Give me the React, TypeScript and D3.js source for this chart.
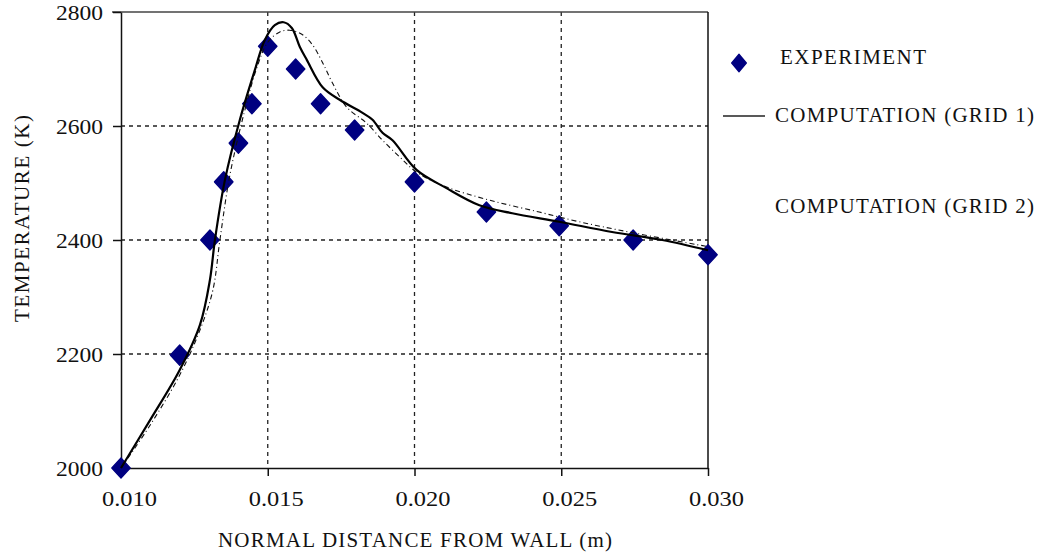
import * as d3 from "d3";
import { useEffect, useRef } from "react";

// experiment points
const expX = [0.0100, 0.0120, 0.01303, 0.0135, 0.0140, 0.01446, 0.0150, 0.01595, 0.0168, 0.01796, 0.0200, 0.02245, 0.02493, 0.02745, 0.0300];
const expT = [2000, 2198, 2400, 2502, 2570, 2639, 2740, 2700, 2639, 2593, 2502, 2449, 2425, 2400, 2374];

// computation, grid 1 (solid)
const grid1X = [0.0100, 0.01099, 0.0120, 0.01269, 0.01303, 0.0132, 0.01354, 0.01405, 0.01456, 0.0149, 0.01524, 0.01554, 0.01582, 0.01609, 0.01633, 0.01687, 0.01745, 0.01823, 0.01857, 0.01891, 0.01925, 0.02007, 0.02109, 0.02221, 0.02333, 0.02493, 0.02673, 0.02844, 0.0300];
const grid1T = [2000, 2084, 2172, 2251, 2330, 2400, 2505, 2611, 2698, 2751, 2777, 2782, 2772, 2739, 2716, 2668, 2646, 2623, 2611, 2588, 2575, 2523, 2491, 2461, 2447, 2432, 2414, 2400, 2382];

// computation, grid 2 (dash-dot)
const grid2X = [0.0100, 0.01099, 0.0120, 0.01269, 0.01313, 0.01337, 0.01371, 0.01422, 0.01466, 0.0150, 0.01541, 0.01575, 0.01616, 0.01653, 0.01687, 0.01721, 0.01769, 0.01837, 0.01891, 0.01949, 0.02007, 0.02109, 0.02255, 0.02425, 0.02561, 0.02731, 0.02993];
const grid2T = [2000, 2075, 2163, 2242, 2312, 2400, 2514, 2628, 2707, 2747, 2765, 2768, 2761, 2742, 2711, 2675, 2633, 2605, 2575, 2546, 2519, 2493, 2470, 2449, 2432, 2414, 2389];

const xTicks = [0.010, 0.015, 0.020, 0.025, 0.030];
const yTicks = [2000, 2200, 2400, 2600, 2800];

const W = 1046, H = 555;

const App = () => {
  const ref = useRef<SVGSVGElement>(null);

  useEffect(() => {
    const svg = d3.select(ref.current);
    svg.selectAll("*").remove();

    const left = 121, right = 708, top = 12, bottom = 468;
    const x = d3.scaleLinear().domain([0.010, 0.030]).range([left, right]);
    const y = d3.scaleLinear().domain([2000, 2800]).range([bottom, top]);
    const font = "'Liberation Serif', 'Times New Roman', 'DejaVu Serif', serif";
    const fs = 21;

    // grid lines
    svg.append("g").selectAll("line").data(yTicks.slice(1, -1)).enter().append("line")
      .attr("x1", left).attr("x2", right)
      .attr("y1", d => y(d)).attr("y2", d => y(d))
      .attr("stroke", "#222").attr("stroke-width", 1.3).attr("stroke-dasharray", "4,4");
    svg.append("g").selectAll("line").data(xTicks.slice(1, -1)).enter().append("line")
      .attr("x1", d => x(d)).attr("x2", d => x(d))
      .attr("y1", top).attr("y2", bottom)
      .attr("stroke", "#222").attr("stroke-width", 1.3).attr("stroke-dasharray", "4,4");

    // frame
    svg.append("line").attr("x1", 112).attr("x2", right).attr("y1", top).attr("y2", top)
      .attr("stroke", "#444").attr("stroke-width", 1.5);
    svg.append("line").attr("x1", right).attr("x2", right).attr("y1", top).attr("y2", bottom)
      .attr("stroke", "#111").attr("stroke-width", 1.5);

    // axes
    const yAxis = svg.append("g").attr("transform", `translate(${left},0)`)
      .call(d3.axisLeft(y).tickValues(yTicks).tickSize(8).tickSizeOuter(0).tickFormat(d3.format("d")));
    const xAxis = svg.append("g").attr("transform", `translate(0,${bottom})`)
      .call(d3.axisBottom(x).tickValues(xTicks).tickSize(8).tickSizeOuter(0).tickFormat(d3.format(".3f")));
    [yAxis, xAxis].forEach(a => {
      a.attr("font-family", font).attr("font-size", fs);
      a.select(".domain").attr("stroke", "#111").attr("stroke-width", 1.5);
      a.selectAll(".tick line").attr("stroke", "#111").attr("stroke-width", 1.5);
      a.selectAll("text").style("font-family", font).style("font-size", fs + "px").attr("fill", "#111")
        .attr("lengthAdjust", "spacingAndGlyphs");
    });
    yAxis.selectAll("text").attr("x", -18).attr("dy", "0.35em").attr("textLength", 47);
    xAxis.selectAll("text").attr("y", 38).attr("dy", 0).attr("dx", 8).attr("textLength", 55);

    // experiment markers (drawn beneath the curves)
    const marker = d3.symbol().type(d3.symbolSquare).size(200);
    svg.append("g").selectAll("path").data(expX).enter().append("path")
      .attr("d", marker)
      .attr("transform", (d, i) => `translate(${x(d)},${y(expT[i])}) scale(0.92,1) rotate(45)`)
      .attr("fill", "#000080").attr("stroke", "#000080").attr("stroke-width", 1.5)
      .attr("stroke-linejoin", "round");

    // curves
    const line = d3.line<[number, number]>().x(d => x(d[0])).y(d => y(d[1])).curve(d3.curveCatmullRom);
    svg.append("path").datum(grid2X.map((v, i) => [v, grid2T[i]] as [number, number]))
      .attr("d", line).attr("fill", "none").attr("stroke", "#111")
      .attr("stroke-width", 1.1).attr("stroke-dasharray", "5,3,1,3");
    svg.append("path").datum(grid1X.map((v, i) => [v, grid1T[i]] as [number, number]))
      .attr("d", line).attr("fill", "none").attr("stroke", "#000").attr("stroke-width", 2.2);

    const label = (tx: number, ty: number, txt: string, len: number) =>
      svg.append("text").attr("x", tx).attr("y", ty)
        .style("font-family", font).style("font-size", fs + "px").attr("fill", "#111")
        .attr("textLength", len).attr("lengthAdjust", "spacing").text(txt);

    // axis titles
    label(218, 547, "NORMAL DISTANCE FROM WALL (m)", 394);
    svg.append("text").attr("transform", "translate(29,322) rotate(-90)")
      .style("font-family", font).style("font-size", fs + "px").attr("fill", "#111")
      .attr("textLength", 207).attr("lengthAdjust", "spacing").text("TEMPERATURE (K)");

    // legend
    svg.append("path").attr("d", d3.symbol().type(d3.symbolSquare).size(150))
      .attr("transform", "translate(739,63) scale(0.85,1) rotate(45)")
      .attr("fill", "#000080").attr("stroke", "#000080").attr("stroke-width", 1.5).attr("stroke-linejoin", "round");
    label(780, 64, "EXPERIMENT", 146);
    svg.append("line").attr("x1", 723).attr("x2", 765).attr("y1", 116).attr("y2", 116)
      .attr("stroke", "#222").attr("stroke-width", 1.5);
    label(775, 122, "COMPUTATION (GRID 1)", 259);
    label(775, 213, "COMPUTATION (GRID 2)", 259);
  }, []);

  return (
    <svg ref={ref} width={W} height={H}
      style={{ position: "absolute", left: 0, top: 0, background: "#fff" }} />
  );
};

export default App;
